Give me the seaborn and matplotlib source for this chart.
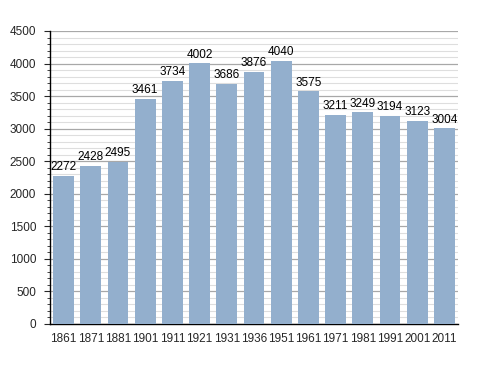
import matplotlib
matplotlib.use("Agg")
import matplotlib.pyplot as plt
from matplotlib.ticker import MultipleLocator
import pandas as pd
import seaborn as sns

years = ["1861", "1871", "1881", "1901", "1911", "1921", "1931", "1936",
         "1951", "1961", "1971", "1981", "1991", "2001", "2011"]
population = [2272, 2428, 2495, 3461, 3734, 4002, 3686, 3876,
              4040, 3575, 3211, 3249, 3194, 3123, 3004]

df = pd.DataFrame({"year": years, "population": population})

sns.set_style("white")
plt.rcParams["font.family"] = ["Liberation Sans", "DejaVu Sans"]

fig = plt.figure(figsize=(4.88, 3.73), dpi=100)
ax = fig.add_axes([50 / 488, 49 / 373, 408 / 488, 293 / 373])

sns.barplot(data=df, x="year", y="population", color="#93afcd",
            saturation=1, width=0.76, edgecolor="none", linewidth=0,
            ax=ax, zorder=3)

for i, v in enumerate(population):
    ax.text(i, v + 40, str(v), ha="center", va="bottom", fontsize=8.5,
            color="black", zorder=4)

ax.set_ylim(0, 4500)
ax.set_xlim(-0.5, len(years) - 0.5)
ax.yaxis.set_major_locator(MultipleLocator(500))
ax.yaxis.set_minor_locator(MultipleLocator(100))
ax.grid(axis="y", which="major", color="#a8a8a8", linewidth=0.9, zorder=0)
ax.grid(axis="y", which="minor", color="#dedede", linewidth=0.8, zorder=0)
ax.set_axisbelow(True)

for side in ["top", "right"]:
    ax.spines[side].set_visible(False)
ax.spines["left"].set_color("black")
ax.spines["bottom"].set_color("black")
ax.spines["left"].set_linewidth(1.0)
ax.spines["bottom"].set_linewidth(1.0)

ax.tick_params(axis="y", which="major", left=True, length=4, width=0.8,
               labelsize=8.5, pad=6)
ax.tick_params(axis="y", which="minor", left=True, length=2, width=0.6)
ax.tick_params(axis="x", bottom=False, labelsize=8.5, pad=3)
ax.set_xlabel("")
ax.set_ylabel("")

fig.savefig("out.png", dpi=100)
